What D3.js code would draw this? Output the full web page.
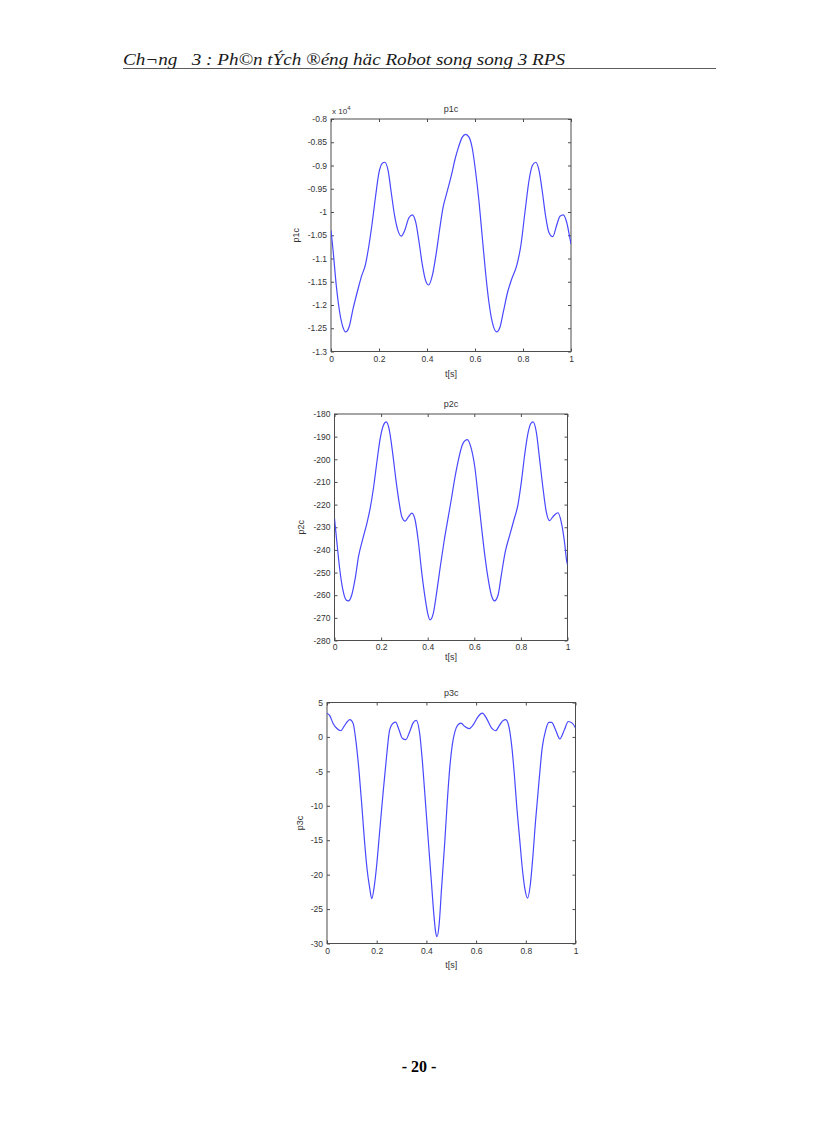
<!DOCTYPE html>
<html>
<head>
<meta charset="utf-8">
<script src="https://cdn.jsdelivr.net/npm/d3@7"></script>
<style>
  body { margin: 0; background: #fff; }
  svg { display: block; }
  .tick text { font-family: "Liberation Sans", Arial, sans-serif; font-size: 8.5px; fill: #333; }
  .tick line { stroke: #4d4d4d; }
  .lbl { font-family: "Liberation Sans", Arial, sans-serif; font-size: 9px; fill: #333; }
</style>
</head>
<body>
<div id="page"></div>
<script>
// shared x ticks
const xTicks = [0, 0.2, 0.4, 0.6, 0.8, 1];

// p1c (x 10^4)
const p1Ticks = [-0.8, -0.85, -0.9, -0.95, -1, -1.05, -1.1, -1.15, -1.2, -1.25, -1.3];
const t1 = [0, 0.008, 0.022, 0.036, 0.05, 0.061, 0.075, 0.092, 0.113, 0.126, 0.144, 0.158, 0.172, 0.186, 0.2,
  0.214, 0.224, 0.238, 0.251, 0.265, 0.279, 0.293, 0.307, 0.324, 0.339, 0.353, 0.367, 0.381, 0.394, 0.407,
  0.422, 0.439, 0.453, 0.467, 0.483, 0.503, 0.517, 0.531, 0.547, 0.561, 0.575, 0.589, 0.603, 0.617, 0.631,
  0.644, 0.658, 0.672, 0.69, 0.704, 0.718, 0.736, 0.753, 0.774, 0.791, 0.808, 0.826, 0.839, 0.853, 0.867,
  0.881, 0.894, 0.908, 0.924, 0.94, 0.954, 0.968, 0.982, 0.996, 1];
const p1c = [-1.040, -1.079, -1.158, -1.215, -1.248, -1.258, -1.248, -1.208, -1.165, -1.140, -1.112, -1.072, -1.022, -0.965, -0.915,
  -0.895, -0.893, -0.911, -0.958, -1.008, -1.040, -1.052, -1.040, -1.013, -1.006, -1.022, -1.065, -1.115, -1.147, -1.157,
  -1.137, -1.087, -1.036, -0.990, -0.958, -0.918, -0.886, -0.861, -0.839, -0.833, -0.839, -0.864, -0.915, -0.979, -1.058,
  -1.130, -1.194, -1.237, -1.258, -1.248, -1.215, -1.172, -1.144, -1.115, -1.072, -1.001, -0.929, -0.900, -0.893, -0.911,
  -0.958, -1.008, -1.044, -1.053, -1.029, -1.009, -1.006, -1.022, -1.058, -1.069];

// p2c
const p2Ticks = [-180, -190, -200, -210, -220, -230, -240, -250, -260, -270, -280];
const t2 = [0, 0.010, 0.022, 0.036, 0.050, 0.060, 0.074, 0.089, 0.103, 0.120, 0.139, 0.153, 0.167, 0.182, 0.196,
  0.210, 0.222, 0.234, 0.249, 0.263, 0.277, 0.289, 0.303, 0.317, 0.332, 0.346, 0.360, 0.374, 0.389, 0.400,
  0.410, 0.424, 0.439, 0.453, 0.470, 0.489, 0.502, 0.516, 0.530, 0.548, 0.562, 0.570, 0.585, 0.602, 0.616,
  0.630, 0.645, 0.659, 0.673, 0.687, 0.702, 0.716, 0.733, 0.752, 0.770, 0.787, 0.802, 0.816, 0.830, 0.842,
  0.852, 0.866, 0.880, 0.895, 0.909, 0.923, 0.937, 0.959, 0.973, 0.987, 0.997, 1];
const p2c = [-226.1, -236.4, -248.1, -257.7, -262.1, -262.5, -259.9, -252.5, -243.0, -235.7, -228.3, -221.7, -212.9, -201.1, -190.9,
  -185.0, -183.5, -186.5, -196.7, -208.5, -218.8, -225.4, -227.3, -225.4, -223.8, -226.8, -236.4, -249.6, -261.3, -268.0,
  -270.9, -268.0, -258.4, -248.1, -236.4, -225.0, -217.3, -208.5, -201.1, -193.8, -191.6, -191.3, -194.5, -203.3, -215.8,
  -229.0, -242.3, -252.5, -259.9, -262.5, -259.9, -251.1, -240.8, -233.5, -226.8, -220.2, -210.0, -198.2, -188.7, -184.3,
  -183.5, -187.9, -199.7, -212.9, -223.2, -227.1, -225.4, -223.6, -227.6, -236.4, -245.2, -246.5];

// p3c
const p3Ticks = [5, 0, -5, -10, -15, -20, -25, -30];
const t3 = [0, 0.011, 0.024, 0.041, 0.055, 0.068, 0.082, 0.092, 0.105, 0.115, 0.129, 0.140, 0.150, 0.161, 0.172,
  0.180, 0.189, 0.200, 0.212, 0.225, 0.239, 0.252, 0.266, 0.276, 0.290, 0.303, 0.317, 0.333, 0.346, 0.359,
  0.373, 0.384, 0.397, 0.410, 0.421, 0.430, 0.437, 0.443, 0.451, 0.461, 0.474, 0.484, 0.494, 0.504, 0.515,
  0.526, 0.539, 0.555, 0.571, 0.589, 0.609, 0.625, 0.642, 0.662, 0.678, 0.696, 0.709, 0.719, 0.732, 0.743,
  0.754, 0.764, 0.775, 0.786, 0.796, 0.807, 0.818, 0.829, 0.839, 0.853, 0.866, 0.880, 0.893, 0.904, 0.920,
  0.937, 0.955, 0.971, 0.987, 1];
const p3c = [3.45, 3.1, 2.0, 1.18, 0.9, 1.5, 2.24, 2.5, 2.0, -0.2, -5.0, -9.9, -14.7, -19.1, -22.0,
  -23.5, -22.0, -18.6, -13.7, -8.4, -3.1, 1.0, 2.0, 2.14, 1.0, -0.2, -0.4, 0.8, 2.0, 2.4,
  0.5, -3.6, -9.9, -16.2, -21.5, -25.8, -28.3, -29.0, -27.3, -22.0, -15.2, -9.4, -4.5, -1.2, 0.8,
  1.7, 2.0, 1.5, 1.2, 1.8, 3.0, 3.45, 2.7, 1.3, 0.9, 1.8, 2.4, 2.5, 1.5, -1.2,
  -5.5, -10.3, -14.7, -19.1, -22.0, -23.4, -21.5, -17.1, -12.3, -6.5, -1.6, 1.0, 2.1, 2.1, 1.0,
  -0.3, 1.0, 2.24, 2.0, 1.3];

const headerText = "Ch¬ng   3 : Ph©n tÝch ®éng häc Robot song song 3 RPS";
const pageNumber = "- 20 -";

// layout of the three axes on the page
const panels = [
  { name: "p1c", t: t1, v: p1c, ticks: p1Ticks, x0: 331, x1: 571, y0: 119, y1: 351.5,
    tickGap: 4, xlabDy: 25, ylabX: 296, exponent: "4" },
  { name: "p2c", t: t2, v: p2c, ticks: p2Ticks, x0: 334.5, x1: 567.5, y0: 414, y1: 640.5,
    tickGap: 3, xlabDy: 19, ylabX: 301 },
  { name: "p3c", t: t3, v: p3c, ticks: p3Ticks, x0: 327, x1: 575.5, y0: 702.5, y1: 943.5,
    tickGap: 4, xlabDy: 24.5, ylabX: 300 }
];

const svg = d3.select("#page").append("svg")
  .attr("width", 816)
  .attr("height", 1123);

svg.append("rect").attr("width", 816).attr("height", 1123).attr("fill", "#fff");

// page header
svg.append("text")
  .attr("x", 123)
  .attr("y", 65)
  .attr("xml:space", "preserve")
  .attr("textLength", 442)
  .attr("lengthAdjust", "spacingAndGlyphs")
  .attr("fill", "#1a1a1a")
  .style("font-family", "'Liberation Serif', 'Times New Roman', serif")
  .style("font-style", "italic")
  .style("font-size", "16px")
  .style("white-space", "pre")
  .text(headerText);

svg.append("line")
  .attr("x1", 123).attr("x2", 716)
  .attr("y1", 68.5).attr("y2", 68.5)
  .attr("stroke", "#333")
  .attr("stroke-width", 0.8);

// page number
svg.append("text")
  .attr("x", 419)
  .attr("y", 1072)
  .attr("text-anchor", "middle")
  .style("font-family", "'Liberation Serif', 'Times New Roman', serif")
  .style("font-weight", "bold")
  .style("font-size", "16px")
  .text(pageNumber);

const fmt = v => String(+v.toFixed(3));

panels.forEach((p, i) => {
  const x = d3.scaleLinear().domain([0, 1]).range([p.x0, p.x1]);
  const y = d3.scaleLinear().domain(d3.extent(p.ticks)).range([p.y1, p.y0]);

  const g = svg.append("g").attr("class", "panel-" + p.name);

  g.append("rect")
    .attr("x", p.x0).attr("y", p.y0)
    .attr("width", p.x1 - p.x0).attr("height", p.y1 - p.y0)
    .attr("fill", "#fff");

  g.append("clipPath").attr("id", "clip" + i)
    .append("rect")
    .attr("x", p.x0).attr("y", p.y0)
    .attr("width", p.x1 - p.x0).attr("height", p.y1 - p.y0);

  // ticks point inwards, like matlab
  g.append("g")
    .attr("transform", `translate(${p.x0},0)`)
    .call(d3.axisLeft(y).tickValues(p.ticks).tickSize(-3).tickPadding(4).tickFormat(fmt))
    .call(a => a.select(".domain").remove());

  g.append("g")
    .attr("transform", `translate(${p.x1},0)`)
    .call(d3.axisRight(y).tickValues(p.ticks).tickSize(-3).tickFormat(""))
    .call(a => a.select(".domain").remove());

  g.append("g")
    .attr("transform", `translate(0,${p.y1})`)
    .call(d3.axisBottom(x).tickValues(xTicks).tickSize(-3).tickPadding(p.tickGap).tickFormat(fmt))
    .call(a => a.select(".domain").remove());

  g.append("g")
    .attr("transform", `translate(0,${p.y0})`)
    .call(d3.axisTop(x).tickValues(xTicks).tickSize(-3).tickFormat(""))
    .call(a => a.select(".domain").remove());

  g.selectAll(".tick text").attr("fill", "#333");

  // box
  g.append("rect")
    .attr("x", p.x0).attr("y", p.y0)
    .attr("width", p.x1 - p.x0).attr("height", p.y1 - p.y0)
    .attr("fill", "none")
    .attr("stroke", "#4d4d4d")
    .attr("stroke-width", 1);

  // curve
  const pts = p.t.map((t, k) => [t, p.v[k]]);
  const line = d3.line()
    .x(d => x(d[0]))
    .y(d => y(d[1]))
    .curve(d3.curveMonotoneX);

  g.append("path")
    .datum(pts)
    .attr("clip-path", `url(#clip${i})`)
    .attr("d", line)
    .attr("fill", "none")
    .attr("stroke", "#4848ff")
    .attr("stroke-width", 1.2);

  // title and labels
  const cx = (p.x0 + p.x1) / 2;
  g.append("text").attr("class", "lbl")
    .attr("x", cx).attr("y", p.y0 - 7)
    .attr("text-anchor", "middle")
    .text(p.name);

  g.append("text").attr("class", "lbl")
    .attr("x", cx).attr("y", p.y1 + p.xlabDy)
    .attr("text-anchor", "middle")
    .text("t[s]");

  g.append("text").attr("class", "lbl")
    .attr("transform", `translate(${p.ylabX},${(p.y0 + p.y1) / 2}) rotate(-90)`)
    .attr("text-anchor", "middle")
    .attr("dy", "0.35em")
    .text(p.name);

  if (p.exponent) {
    const ex = g.append("text").attr("class", "lbl")
      .attr("x", p.x0 + 1).attr("y", p.y0 - 5)
      .style("font-size", "8px");
    ex.append("tspan").text("x 10");
    ex.append("tspan").attr("dy", -4).style("font-size", "6px").text(p.exponent);
  }
});
</script>
</body>
</html>
